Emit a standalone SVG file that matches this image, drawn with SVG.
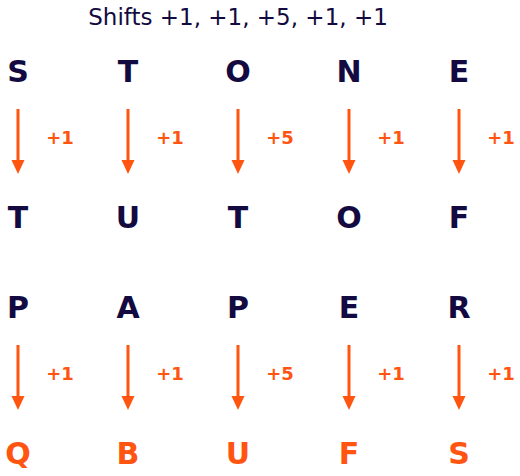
<svg xmlns="http://www.w3.org/2000/svg" width="520" height="476" viewBox="0 0 520 476">
<defs>
<marker id="ah" markerWidth="13" markerHeight="14" refX="6.5" refY="14" orient="auto" markerUnits="userSpaceOnUse" viewBox="0 0 13 14">
<path d="M0,0 L13,0 L6.5,14 Z" fill="#ff5511"/>
</marker>
<style>
.t{font-family:"DejaVu Sans",Verdana,sans-serif;font-size:23px;fill:#120a40;text-anchor:middle}
.l{font-family:"DejaVu Sans",Verdana,sans-serif;font-size:30px;font-weight:bold;fill:#120a40;text-anchor:middle}
.o{fill:#ff5511}
.s{font-family:"DejaVu Sans",Verdana,sans-serif;font-size:18px;font-weight:bold;fill:#ff5511;text-anchor:middle}
.a{stroke:#ff5511;stroke-width:3;fill:none}
</style>
</defs>
<rect width="520" height="476" fill="#ffffff"/>
<text class="t" x="238" y="25">Shifts +1, +1, +5, +1, +1</text>
<g id="connectors">
<line class="a" x1="18" y1="109" x2="18" y2="161"/><path d="M11.5,160 L24.5,160 L18,174 Z" fill="#ff5511"/>
<line class="a" x1="128" y1="109" x2="128" y2="161"/><path d="M121.5,160 L134.5,160 L128,174 Z" fill="#ff5511"/>
<line class="a" x1="238" y1="109" x2="238" y2="161"/><path d="M231.5,160 L244.5,160 L238,174 Z" fill="#ff5511"/>
<line class="a" x1="349" y1="109" x2="349" y2="161"/><path d="M342.5,160 L355.5,160 L349,174 Z" fill="#ff5511"/>
<line class="a" x1="459" y1="109" x2="459" y2="161"/><path d="M452.5,160 L465.5,160 L459,174 Z" fill="#ff5511"/>
<line class="a" x1="18" y1="345" x2="18" y2="397"/><path d="M11.5,396 L24.5,396 L18,410 Z" fill="#ff5511"/>
<line class="a" x1="128" y1="345" x2="128" y2="397"/><path d="M121.5,396 L134.5,396 L128,410 Z" fill="#ff5511"/>
<line class="a" x1="238" y1="345" x2="238" y2="397"/><path d="M231.5,396 L244.5,396 L238,410 Z" fill="#ff5511"/>
<line class="a" x1="349" y1="345" x2="349" y2="397"/><path d="M342.5,396 L355.5,396 L349,410 Z" fill="#ff5511"/>
<line class="a" x1="459" y1="345" x2="459" y2="397"/><path d="M452.5,396 L465.5,396 L459,410 Z" fill="#ff5511"/>
<text class="s" x="60" y="144">+1</text>
<text class="s" x="170" y="144">+1</text>
<text class="s" x="280" y="144">+5</text>
<text class="s" x="391" y="144">+1</text>
<text class="s" x="501" y="144">+1</text>
<text class="s" x="60" y="380">+1</text>
<text class="s" x="170" y="380">+1</text>
<text class="s" x="280" y="380">+5</text>
<text class="s" x="391" y="380">+1</text>
<text class="s" x="501" y="380">+1</text>
</g>
<g id="stone">
<text class="l" x="18" y="82">S</text>
<text class="l" x="128" y="82">T</text>
<text class="l" x="238" y="82">O</text>
<text class="l" x="349" y="82">N</text>
<text class="l" x="459" y="82">E</text>
</g>
<g id="tutof">
<text class="l" x="18" y="228">T</text>
<text class="l" x="128" y="228">U</text>
<text class="l" x="238" y="228">T</text>
<text class="l" x="349" y="228">O</text>
<text class="l" x="459" y="228">F</text>
</g>
<g id="paper">
<text class="l" x="18" y="318">P</text>
<text class="l" x="128" y="318">A</text>
<text class="l" x="238" y="318">P</text>
<text class="l" x="349" y="318">E</text>
<text class="l" x="459" y="318">R</text>
</g>
<g id="qbufs">
<text class="l o" x="18" y="464">Q</text>
<text class="l o" x="128" y="464">B</text>
<text class="l o" x="238" y="464">U</text>
<text class="l o" x="349" y="464">F</text>
<text class="l o" x="459" y="464">S</text>
</g>
</svg>
